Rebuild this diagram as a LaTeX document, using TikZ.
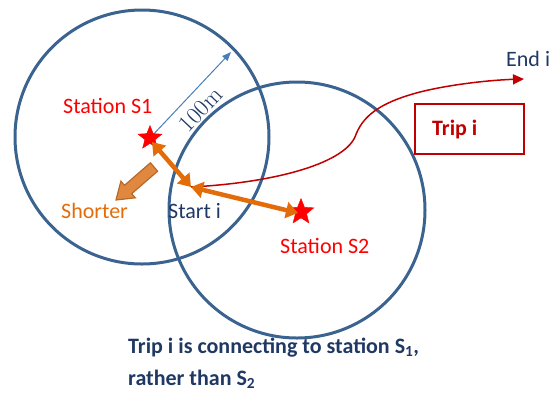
\documentclass[tikz,border=0pt]{standalone}
\usepackage{fontspec}
\newfontfamily\calib{Carlito}
\newfontfamily\numface{Latin Modern Roman}
\usetikzlibrary{arrows.meta,shapes.geometric}

\definecolor{ringblue}{HTML}{3B6390}
\definecolor{rulerblue}{HTML}{4A7EBB}
\definecolor{navy}{HTML}{1F3864}
\definecolor{tripred}{HTML}{C00000}
\definecolor{linkorange}{HTML}{E36C09}
\definecolor{hintfill}{HTML}{E0883F}
\definecolor{hintline}{HTML}{B8692A}

\tikzset{
  ring/.style={draw=ringblue, line width=3pt},
  stationstar/.style={star, star points=5, star point ratio=2.3, fill=red,
    draw=red, minimum size=25pt, inner sep=0pt},
  link/.style={draw=linkorange, line width=4.5pt,
    {Triangle[length=12pt,width=16pt]}-{Triangle[length=12pt,width=16pt]}},
  ruler/.style={draw=rulerblue, line width=1pt, -{Triangle[length=9pt,width=7pt]}},
  trippath/.style={draw=tripred, line width=1.5pt, -{Triangle[length=11pt,width=10pt]}},
  tripbox/.style={draw=tripred, line width=2pt, minimum width=109pt, minimum height=50pt},
  lbl/.style={font=\calib\fontsize{22}{26}\selectfont, anchor=base west, inner sep=0pt},
}

\begin{document}
\begin{tikzpicture}[x=1pt, y=-1pt]
\useasboundingbox (0,0) rectangle (552,392);

% the two 100 m catchment circles
\draw[ring] (142,137) circle[radius=127];
\draw[ring] (297,210) circle[radius=128];

% stations and trip end points
\coordinate (start) at (191,187);
\coordinate (rim) at (231,52);
\coordinate (endi) at (524,79);

% radius marker
\draw[ruler] (150,138) -- (rim)
  node[pos=0.47, sloped, below=9pt, inner sep=0pt, text=navy,
       font=\numface\fontsize{24}{28}\selectfont] (radius) {100m};

% trip path
\draw[trippath] (start) .. controls (270,183) and (342,165) .. (355,137)
  .. controls (362,117) and (378,103) .. (420,92)
  .. controls (452,84) and (492,80) .. (endi);

% stations
\node[stationstar] (s1) at (150,138) {};
\node[stationstar, minimum size=27pt] (s2) at (301,212) {};

% distance links from the trip start to both stations
\draw[link] (start) -- ([shift={(2pt,-4pt)}]s1.center);
\draw[link] (start) -- ([shift={(-3pt,-1pt)}]s2.center);

% "shorter" hint arrow
\filldraw[fill=hintfill, draw=hintline, line width=1.2pt, line join=miter]
  (150.4,162.8) -- (124.5,185.3) -- (120.9,181.2) -- (116,200)
  -- (135.3,197.8) -- (131.7,193.7) -- (157.6,171.2) -- cycle;

% labels
\node[lbl, text=red] (s1lbl) at (63,113) {Station S1};
\node[lbl, text=red] (s2lbl) at (280,253) {Station S2};
\node[lbl, text=linkorange] (shorter) at (61,218) {Shorter};
\node[lbl, text=navy] (startlbl) at (168,218) {Start i};
\node[lbl, text=navy] (endlbl) at (506,66) {End i};

% trip label box
\node[tripbox] (trip) at (469.5,129) {};
\node[lbl, text=tripred, font=\calib\bfseries\fontsize{22}{26}\selectfont] (triplbl) at (432,135) {Trip i};

% caption (base anchor sits on the last line)
\node[lbl, text=navy, align=left, font=\calib\bfseries\fontsize{22}{32}\selectfont] (caption) at (128,385)
  {Trip i is connecting to station S\textsubscript{1},\\rather than S\textsubscript{2}};
\end{tikzpicture}
\end{document}
